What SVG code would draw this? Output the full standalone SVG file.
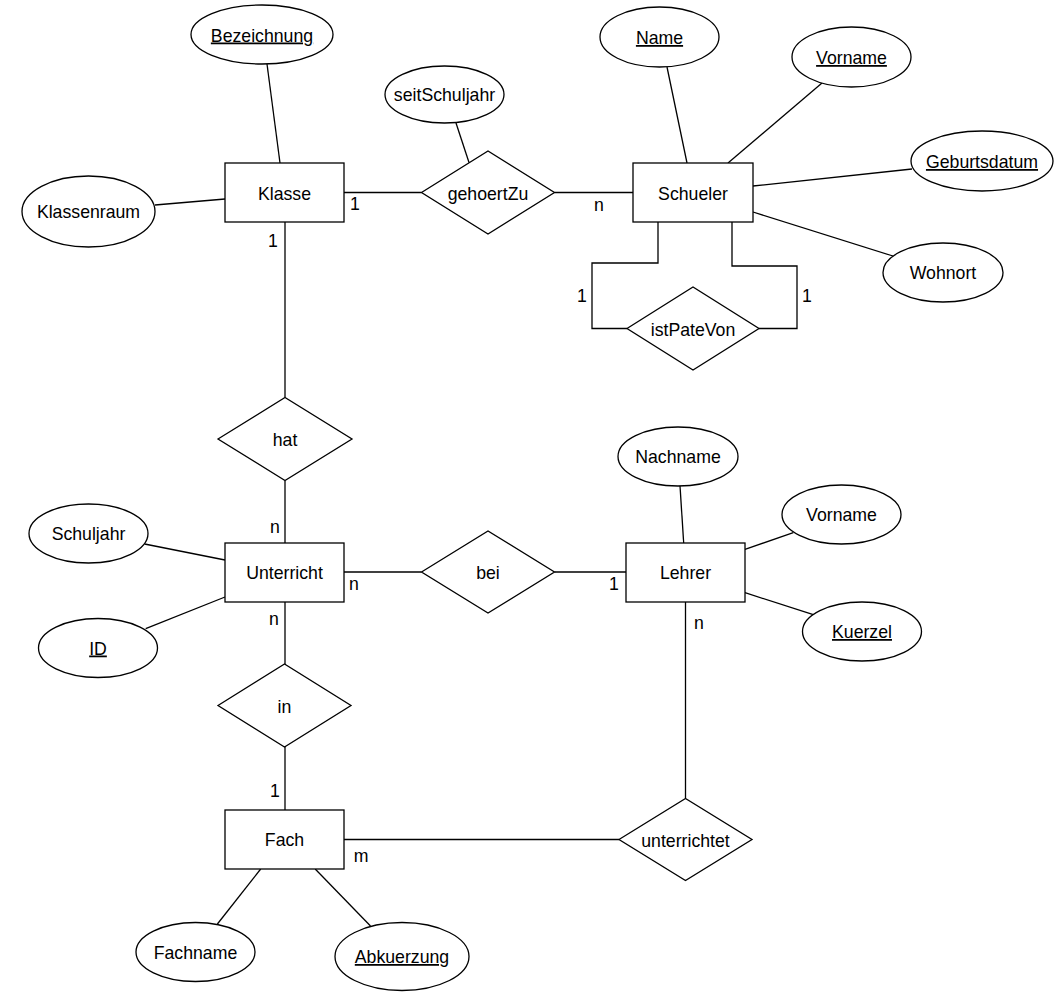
<svg xmlns="http://www.w3.org/2000/svg" width="1061" height="997" viewBox="0 0 1061 997">
<style>
.e,ellipse,polygon{fill:#fff;stroke:#000;stroke-width:1.3}
line,polyline{fill:none;stroke:#000;stroke-width:1.3}
text{font-family:"Liberation Sans",Arial,sans-serif;font-size:17.7px;fill:#000;text-anchor:middle}
.k{text-decoration:underline}
</style>
<rect width="1061" height="997" style="fill:#fff;stroke:none"/>
<g id="connectors">
<line x1="267" y1="64" x2="280" y2="163"/>
<line x1="155" y1="205" x2="225" y2="199"/>
<line x1="344" y1="192.5" x2="421.5" y2="192.5"/>
<line x1="554.5" y1="192.5" x2="633" y2="192.5"/>
<line x1="456" y1="123" x2="469" y2="162.5"/>
<line x1="667" y1="67" x2="687" y2="163"/>
<line x1="822" y1="83" x2="728" y2="163"/>
<line x1="753" y1="186" x2="912" y2="169"/>
<line x1="753" y1="212" x2="893" y2="256"/>
<polyline points="658,222 658,263 592,263 592,328.5 627,328.5"/>
<polyline points="732,222 732,266 797,266 797,328.5 759,328.5"/>
<line x1="285" y1="222" x2="285" y2="397.5"/>
<line x1="285" y1="480.5" x2="285" y2="543"/>
<line x1="144.6" y1="544" x2="225" y2="560"/>
<line x1="145.7" y1="628.7" x2="225" y2="597"/>
<line x1="344" y1="572" x2="421.5" y2="572"/>
<line x1="554.5" y1="572" x2="626" y2="572"/>
<line x1="680" y1="486" x2="683.7" y2="543"/>
<line x1="745" y1="549.3" x2="793.3" y2="532.7"/>
<line x1="745" y1="592.7" x2="813.3" y2="614.7"/>
<line x1="285" y1="602" x2="285" y2="664"/>
<line x1="285" y1="747" x2="285" y2="810"/>
<line x1="344" y1="839.5" x2="619" y2="839.5"/>
<line x1="685.5" y1="602" x2="685.5" y2="798.5"/>
<line x1="260.7" y1="869" x2="217.4" y2="924"/>
<line x1="315.2" y1="869" x2="370.5" y2="926"/>
<text x="355" y="210">1</text>
<text x="273" y="247">1</text>
<text x="599" y="211">n</text>
<text x="582" y="302">1</text>
<text x="807" y="302">1</text>
<text x="275" y="533">n</text>
<text x="354" y="590">n</text>
<text x="274" y="625">n</text>
<text x="614" y="590">1</text>
<text x="699" y="629">n</text>
<text x="275" y="797">1</text>
<text x="361" y="862">m</text>
</g>
<g id="attr-bezeichnung"><ellipse cx="262" cy="34.5" rx="71" ry="29.5"/><text class="k" x="262" y="41.5">Bezeichnung</text></g>
<g id="attr-klassenraum"><ellipse cx="88.5" cy="211.5" rx="66.5" ry="35.5"/><text x="88.5" y="218">Klassenraum</text></g>
<g id="attr-seitschuljahr"><ellipse cx="444.5" cy="94.5" rx="59.5" ry="28.5"/><text x="444.5" y="101">seitSchuljahr</text></g>
<g id="attr-name"><ellipse cx="659.5" cy="37" rx="59.5" ry="30"/><text class="k" x="659.5" y="44">Name</text></g>
<g id="attr-vorname-schueler"><ellipse cx="851.5" cy="57" rx="59.5" ry="30"/><text class="k" x="851.5" y="64">Vorname</text></g>
<g id="attr-geburtsdatum"><ellipse cx="982" cy="161" rx="71" ry="30"/><text class="k" x="982" y="168">Geburtsdatum</text></g>
<g id="attr-wohnort"><ellipse cx="943" cy="272.5" rx="60" ry="29.5"/><text x="943" y="279">Wohnort</text></g>
<g id="attr-schuljahr"><ellipse cx="88.5" cy="533.5" rx="59.5" ry="29.5"/><text x="88.5" y="540">Schuljahr</text></g>
<g id="attr-id"><ellipse cx="98" cy="648" rx="59.5" ry="29.5"/><text class="k" x="98" y="654.5">ID</text></g>
<g id="attr-nachname"><ellipse cx="678" cy="456.5" rx="60" ry="29.5"/><text x="678" y="463">Nachname</text></g>
<g id="attr-vorname-lehrer"><ellipse cx="841.5" cy="514.5" rx="59.5" ry="29.5"/><text x="841.5" y="521">Vorname</text></g>
<g id="attr-kuerzel"><ellipse cx="862" cy="631.5" rx="59.5" ry="29.5"/><text class="k" x="862" y="638">Kuerzel</text></g>
<g id="attr-fachname"><ellipse cx="195.5" cy="952" rx="59.5" ry="29.5"/><text x="195.5" y="958.5">Fachname</text></g>
<g id="attr-abkuerzung"><ellipse cx="402" cy="956.5" rx="67" ry="34"/><text class="k" x="402" y="963">Abkuerzung</text></g>
<g id="ent-klasse"><rect class="e" x="225" y="163" width="119" height="59"/><text x="284.5" y="199.5">Klasse</text></g>
<g id="ent-schueler"><rect class="e" x="633" y="163" width="120" height="59"/><text x="693" y="199.5">Schueler</text></g>
<g id="ent-unterricht"><rect class="e" x="225" y="543" width="119" height="59"/><text x="284.5" y="579">Unterricht</text></g>
<g id="ent-lehrer"><rect class="e" x="626" y="543" width="119" height="59"/><text x="685.5" y="579">Lehrer</text></g>
<g id="ent-fach"><rect class="e" x="225" y="810" width="119" height="59"/><text x="284.5" y="846">Fach</text></g>
<g id="rel-gehoertzu"><polygon points="421.5,192.5 488,151 554.5,192.5 488,234"/><text x="488" y="199.5">gehoertZu</text></g>
<g id="rel-istpatevon"><polygon points="627,328.5 693,287 759,328.5 693,370"/><text x="693" y="335.5">istPateVon</text></g>
<g id="rel-hat"><polygon points="218,439 285,397.5 352,439 285,480.5"/><text x="285" y="446">hat</text></g>
<g id="rel-bei"><polygon points="421.5,572 488,531 554.5,572 488,613"/><text x="488" y="579">bei</text></g>
<g id="rel-in"><polygon points="218,705.5 284.5,664 351,705.5 284.5,747"/><text x="284.5" y="712.5">in</text></g>
<g id="rel-unterrichtet"><polygon points="619,839.5 685.5,798.5 752,839.5 685.5,880.5"/><text x="685.5" y="846.5">unterrichtet</text></g>
</svg>
